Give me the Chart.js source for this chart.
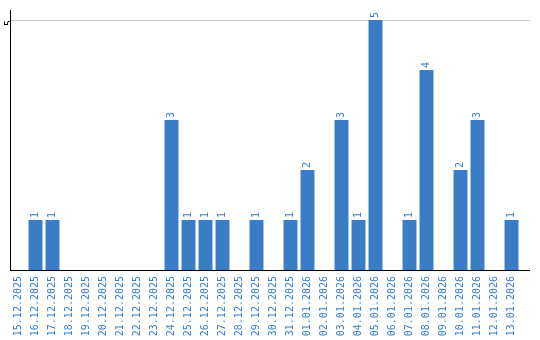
<!DOCTYPE html>
<html>
<head>
<meta charset="utf-8">
<script src="https://cdn.jsdelivr.net/npm/chart.js@4/dist/chart.umd.min.js"></script>
<style>
html,body{margin:0;padding:0;background:#fff;}
#wrap{width:540px;height:340px;position:relative;}
</style>
</head>
<body>
<div id="wrap"><canvas id="c" width="540" height="340"></canvas></div>
<script>
const categories = ["15.12.2025","16.12.2025","17.12.2025","18.12.2025","19.12.2025","20.12.2025","21.12.2025","22.12.2025","23.12.2025","24.12.2025","25.12.2025","26.12.2025","27.12.2025","28.12.2025","29.12.2025","30.12.2025","31.12.2025","01.01.2026","02.01.2026","03.01.2026","04.01.2026","05.01.2026","06.01.2026","07.01.2026","08.01.2026","09.01.2026","10.01.2026","11.01.2026","12.01.2026","13.01.2026"];
const counts = [0,1,1,0,0,0,0,0,0,3,1,1,1,0,1,0,1,2,0,3,1,5,0,1,4,0,2,3,0,1];
const yTicks = [5];
const yMax = 5.2;

const BLUE = "#3b7dc4";
const FONT = "DejaVu Sans Mono";

const extras = {
  id: "extras",
  afterDatasetsDraw(chart) {
    const ctx = chart.ctx;
    const meta = chart.getDatasetMeta(0);
    ctx.save();
    ctx.fillStyle = BLUE;
    ctx.font = "10px '" + FONT + "'";
    ctx.textAlign = "left";
    ctx.textBaseline = "middle";
    meta.data.forEach((bar, i) => {
      const v = counts[i];
      if (!v) return;
      ctx.save();
      ctx.translate(bar.x, bar.y - 2);
      ctx.rotate(-Math.PI / 2);
      ctx.fillText(String(v), 0, 0);
      ctx.restore();
    });
    ctx.restore();
  },
  afterDraw(chart) {
    const ctx = chart.ctx;
    const a = chart.chartArea;
    const y = chart.scales.y;
    ctx.save();
    ctx.lineWidth = 1;
    ctx.strokeStyle = "#cccccc";
    const gy = Math.round(y.getPixelForValue(yTicks[0])) + 0.5;
    ctx.beginPath(); ctx.moveTo(a.right, gy); ctx.lineTo(530, gy); ctx.stroke();
    ctx.strokeStyle = "#000";
    const by = Math.round(a.bottom) + 0.5;
    ctx.beginPath(); ctx.moveTo(a.right - 1, by); ctx.lineTo(530, by); ctx.stroke();
    ctx.restore();
  }
};

new Chart(document.getElementById("c"), {
  type: "bar",
  data: {
    labels: categories,
    datasets: [{
      data: counts,
      backgroundColor: BLUE,
      borderWidth: 0,
      categoryPercentage: 1,
      barPercentage: 0.82
    }]
  },
  options: {
    responsive: false,
    animation: false,
    layout: { padding: { left: 0, top: 10, right: 20, bottom: 0 } },
    plugins: { legend: { display: false }, tooltip: { enabled: false } },
    scales: {
      x: {
        offset: true,
        grid: { display: false, drawTicks: false },
        border: { display: true, color: "#000", width: 1 },
        ticks: {
          autoSkip: false,
          minRotation: 90, maxRotation: 90,
          padding: 6,
          color: BLUE,
          font: { family: FONT, size: 10 }
        },
        afterFit(s) { s.height = 70; }
      },
      y: {
        min: 0, max: yMax,
        afterBuildTicks(s) { s.ticks = yTicks.map(v => ({ value: v })); },
        grid: { color: "#cccccc", drawTicks: false, lineWidth: 1 },
        border: { display: true, color: "#000", width: 1 },
        ticks: {
          minRotation: 90, maxRotation: 90,
          padding: 1,
          color: "#000",
          font: { family: FONT, size: 10 }
        },
        afterFit(s) { s.width = 10; }
      }
    }
  },
  plugins: [extras]
});
</script>
</body>
</html>
